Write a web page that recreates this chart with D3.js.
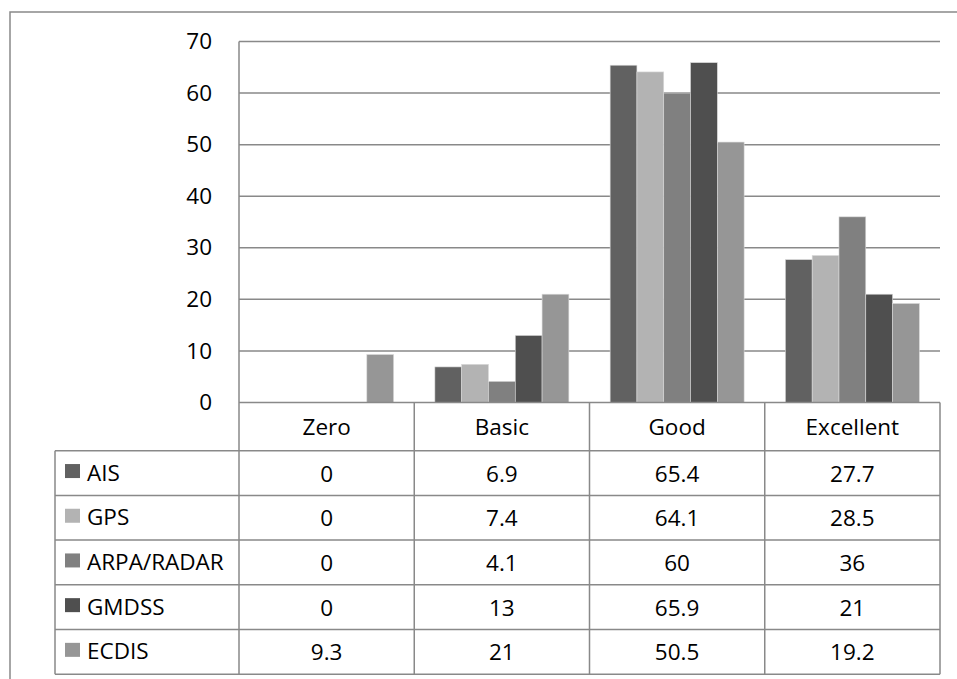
<!DOCTYPE html>
<html>
<head>
<meta charset="utf-8">
<script src="https://cdn.jsdelivr.net/npm/d3@7"></script>
<style>
  html, body { margin: 0; padding: 0; background: #fff; }
  svg { display: block; }
  text { font-family: "Open Sans", Lato, "Liberation Sans", sans-serif; fill: #000; }
</style>
</head>
<body>
<svg id="chart" width="957" height="679"></svg>
<script>
// Proficiency levels (table columns / x categories)
const categories = ["Zero", "Basic", "Good", "Excellent"];
// Equipment series
const seriesNames = ["AIS", "GPS", "ARPA/RADAR", "GMDSS", "ECDIS"];
const seriesColors = ["#616161", "#b3b3b3", "#808080", "#4f4f4f", "#969696"];
// Percentages per series, one value per category
const ais   = [0, 6.9, 65.4, 27.7];
const gps   = [0, 7.4, 64.1, 28.5];
const arpa  = [0, 4.1, 60, 36];
const gmdss = [0, 13, 65.9, 21];
const ecdis = [9.3, 21, 50.5, 19.2];
const yTicks = [0, 10, 20, 30, 40, 50, 60, 70];

const seriesValues = [ais, gps, arpa, gmdss, ecdis];

const svg = d3.select("#chart");
const gridColor = "#898989";
const fontSize = 22.5;

// Plot area
const plotLeft = 239, plotRight = 940, plotTop = 41.5, plotBottom = 402.5;
// Table
const legendLeft = 55;
const headerBottom = 450.7;
const rowH = 44.7;

const x0 = d3.scaleBand().domain(categories).range([plotLeft, plotRight]).padding(0);
const x1 = d3.scaleBand().domain(seriesNames).range([0, x0.bandwidth()])
  .paddingInner(0).paddingOuter(0.77);
const y = d3.scaleLinear().domain([0, 70]).range([plotBottom, plotTop]);

// Outer chart frame (runs past the right and bottom edges)
svg.append("rect")
  .attr("x", 10).attr("y", 12)
  .attr("width", 980).attr("height", 700)
  .attr("fill", "none").attr("stroke", gridColor).attr("stroke-width", 1.5);

// Horizontal gridlines
svg.append("g").selectAll("line").data(yTicks.slice(1)).join("line")
  .attr("x1", plotLeft).attr("x2", plotRight)
  .attr("y1", d => y(d)).attr("y2", d => y(d))
  .attr("stroke", gridColor).attr("stroke-width", 1.5);

// Y-axis labels
const yAxis = d3.axisLeft(y).tickValues(yTicks).tickSize(0).tickPadding(27);
const gy = svg.append("g").attr("transform", `translate(${plotLeft},0)`).call(yAxis);
gy.select(".domain").remove();
gy.selectAll("text").attr("font-size", fontSize).attr("font-family", null).attr("fill", "#000");

// Bars
const bars = [];
seriesNames.forEach((s, si) => {
  categories.forEach((c, ci) => {
    bars.push({ series: s, cat: c, value: seriesValues[si][ci], color: seriesColors[si] });
  });
});
svg.append("g").selectAll("rect").data(bars.filter(d => d.value > 0)).join("rect")
  .attr("x", d => x0(d.cat) + x1(d.series))
  .attr("width", x1.bandwidth())
  .attr("y", d => y(d.value))
  .attr("height", d => y(0) - y(d.value))
  .attr("fill", d => d.color)
  .attr("stroke", "#d9d9d9").attr("stroke-width", 0.6);

// Data table lines
const tbl = svg.append("g").attr("stroke", gridColor).attr("stroke-width", 1.5);
const tableBottom = headerBottom + rowH * seriesNames.length;
// axis line / table top
tbl.append("line").attr("x1", plotLeft).attr("x2", plotRight)
  .attr("y1", plotBottom).attr("y2", plotBottom);
// row lines
d3.range(seriesNames.length + 1).forEach(i => {
  const yy = headerBottom + i * rowH;
  tbl.append("line").attr("x1", legendLeft).attr("x2", plotRight).attr("y1", yy).attr("y2", yy);
});
// vertical axis line through table
tbl.append("line").attr("x1", plotLeft).attr("x2", plotLeft)
  .attr("y1", plotTop).attr("y2", tableBottom);
// column separators
categories.forEach(c => {
  const xx = x0(c) + x0.bandwidth();
  tbl.append("line").attr("x1", xx).attr("x2", xx).attr("y1", plotBottom).attr("y2", tableBottom);
});
// legend column left edge
tbl.append("line").attr("x1", legendLeft).attr("x2", legendLeft)
  .attr("y1", headerBottom).attr("y2", tableBottom);

// Header labels
svg.append("g").selectAll("text").data(categories).join("text")
  .attr("x", d => x0(d) + x0.bandwidth() / 2)
  .attr("y", (plotBottom + headerBottom) / 2)
  .attr("text-anchor", "middle").attr("dominant-baseline", "central")
  .attr("font-size", fontSize)
  .text(d => d);

// Rows: legend key + name + values
seriesNames.forEach((s, si) => {
  const cy = headerBottom + si * rowH + rowH / 2;
  svg.append("rect")
    .attr("x", 65).attr("y", cy - 9).attr("width", 15).attr("height", 14)
    .attr("fill", seriesColors[si]);
  svg.append("text")
    .attr("x", 87).attr("y", cy - 1)
    .attr("dominant-baseline", "central")
    .attr("font-size", fontSize)
    .text(s);
  svg.append("g").selectAll("text").data(categories).join("text")
    .attr("x", c => x0(c) + x0.bandwidth() / 2)
    .attr("y", cy)
    .attr("text-anchor", "middle").attr("dominant-baseline", "central")
    .attr("font-size", fontSize)
    .text((c, ci) => seriesValues[si][ci]);
});
</script>
</body>
</html>
